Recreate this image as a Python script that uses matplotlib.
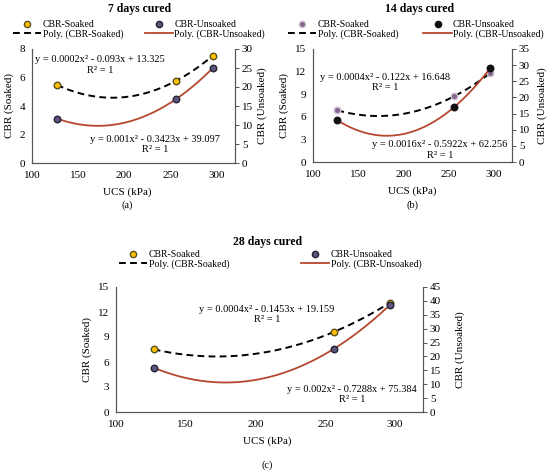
import numpy as np
import matplotlib
matplotlib.use("Agg")
import matplotlib.pyplot as plt
from matplotlib.lines import Line2D

plt.rcParams["font.family"] = ["Liberation Serif", "DejaVu Serif"]

W, H = 550, 472

UCS = [127, 256, 296]

SOAKED_7 = [5.48, 5.76, 7.53]
UNSOAKED_7 = [11.7, 16.8, 25.0]
SOAKED_14 = [6.86, 8.72, 11.81]
UNSOAKED_14 = [12.9, 17.0, 29.1]
SOAKED_28 = [7.52, 9.6, 13.08]
UNSOAKED_28 = [15.96, 22.7, 38.4]

EQ_SOAKED = ["y = 0.0002x² - 0.093x + 13.325", "y = 0.0004x² - 0.122x + 16.648",
             "y = 0.0004x² - 0.1453x + 19.159"]
EQ_UNSOAKED = ["y = 0.001x² - 0.3423x + 39.097", "y = 0.0016x² - 0.5922x + 62.256",
               "y = 0.002x² - 0.7288x + 75.384"]

RED = "#b5482f"


def px_rect(l, r, t, b):
    return [l / W, 1 - b / H, (r - l) / W, (b - t) / H]


def fx(x):
    return x / W


def fy(y):
    return 1 - y / H


def panel(fig, rect, soaked, unsoaked, lim_l, lim_r, soak_style, unsoak_style,
          title, tag, eqs, eq_pos, leg, rpad):
    ax = fig.add_axes(px_rect(*rect))
    ax2 = ax.twinx()
    l, r, t, b = rect

    xs = np.linspace(UCS[0], UCS[-1], 200)
    c1 = np.polyfit(UCS, soaked, 2)
    c2 = np.polyfit(UCS, unsoaked, 2)
    ax.plot(xs, np.polyval(c1, xs), color="black", ls=(0, (3.5, 2.2)), lw=1.4, zorder=2)
    ax2.plot(xs, np.polyval(c2, xs), color=RED, lw=1.3, zorder=2)
    ax.scatter(UCS, soaked, s=22, zorder=3, **soak_style)
    ax2.scatter(UCS, unsoaked, s=22, zorder=3, **unsoak_style)

    ax.set_xlim(100, 320)
    ax.set_xticks([100, 150, 200, 250, 300])
    ax.set_ylim(0, lim_l[0])
    ax.set_yticks(np.arange(0, lim_l[0] + 0.1, lim_l[1]))
    ax2.set_ylim(0, lim_r[0])
    ax2.set_yticks(np.arange(0, lim_r[0] + 0.1, lim_r[1]))

    for a in (ax, ax2):
        a.spines["top"].set_visible(False)
        for s in a.spines.values():
            s.set_color("#555555")
            s.set_linewidth(0.8)
    ax.tick_params(axis="x", length=0, labelsize=8, pad=6)
    ax.tick_params(axis="y", length=0, labelsize=8, pad=5)
    ax2.tick_params(axis="y", length=3, width=0.7, color="#555555", labelsize=8, pad=2)
    ax.set_xlabel("UCS (kPa)", fontsize=8, labelpad=5)
    ax.set_ylabel("CBR (Soaked)", fontsize=8, labelpad=4)
    ax2.set_ylabel("CBR (Unsoaked)", fontsize=8, labelpad=rpad)

    cx = (l + r) / 2
    ax.xaxis.label.set_x(0.5 + tag[2] / (r - l))
    fig.text(fx(cx + title[1]), fy(title[2]), title[0], ha="center", va="center",
             fontsize=8.5, fontweight="bold")
    fig.text(fx(cx + tag[2]), fy(tag[1]), tag[0], ha="center", va="center", fontsize=7.5)

    for eq, (ex, ey) in zip(eqs, eq_pos):
        fig.text(fx(ex), fy(ey), eq, ha="center", va="center", fontsize=7.5)
        fig.text(fx(ex), fy(ey + 11), "R² = 1", ha="center", va="center", fontsize=7.5)

    handles = [
        Line2D([], [], ls="none", marker="o", ms=4.5, markerfacecolor=soak_style["c"],
               markeredgecolor=soak_style["edgecolors"], markeredgewidth=1.0),
        Line2D([], [], color="black", ls=(0, (3.5, 2.2)), lw=1.4),
        Line2D([], [], ls="none", marker="o", ms=4.5, markerfacecolor=unsoak_style["c"],
               markeredgecolor=unsoak_style["edgecolors"], markeredgewidth=1.0),
        Line2D([], [], color=RED, lw=1.3),
    ]
    labels = ["CBR-Soaked", "Poly. (CBR-Soaked)", "CBR-Unsoaked", "Poly. (CBR-Unsoaked)"]
    fig.legend(handles, labels, loc="upper left", bbox_to_anchor=(fx(leg[0]), fy(leg[1])),
               ncol=2, frameon=False, fontsize=7, handlelength=2.9, handletextpad=0.15,
               columnspacing=leg[2], labelspacing=0.05, borderpad=0, borderaxespad=0)
    return ax, ax2


fig = plt.figure(figsize=(W / 100, H / 100), dpi=100)

yellow = dict(c="#ffc000", edgecolors="#5a5020", linewidths=1.0)
navy = dict(c="#5f547f", edgecolors="#222233", linewidths=1.0)
mauve = dict(c="#85668f", edgecolors="#cfc0d2", linewidths=1.0)
black = dict(c="#111111", edgecolors="#111111", linewidths=1.0)

panel(fig, (32, 235, 49, 163), SOAKED_7, UNSOAKED_7, (8, 2), (30, 5), yellow, navy,
      ("7 days cured", 6.5, 9), ("(a)", 205, -6),
      [EQ_SOAKED[0], EQ_UNSOAKED[0]], [(100, 60), (155, 139)], (13, 20, 2.2), 3)
panel(fig, (313, 512, 49, 162), SOAKED_14, UNSOAKED_14, (15, 3), (35, 5), mauve, black,
      ("14 days cured", 7, 9), ("(b)", 205, 0),
      [EQ_SOAKED[1], EQ_UNSOAKED[1]], [(385, 77), (440, 144)], (288, 20, 2.6), 5)
panel(fig, (116, 423, 287, 412), SOAKED_28, UNSOAKED_28, (15, 3), (45, 5), yellow, navy,
      ("28 days cured", -1.5, 242), ("(c)", 465, -2),
      [EQ_SOAKED[2], EQ_UNSOAKED[2]], [(267, 309), (352, 389)], (119, 250, 7.4), 10)

fig.savefig("out.png", dpi=100)
